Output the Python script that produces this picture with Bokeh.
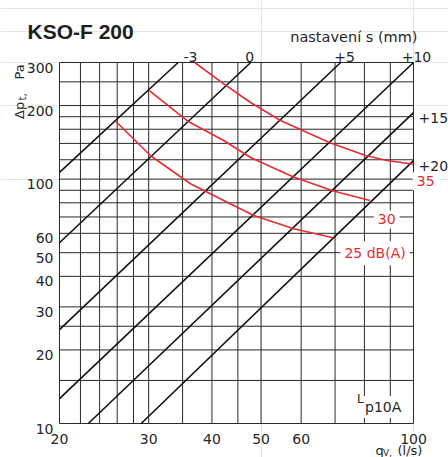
import math
from bokeh.plotting import figure
from bokeh.models import Label, Range1d
from bokeh.embed import file_html
from bokeh.resources import INLINE

# ---------------- data ----------------
flow_ticks = [20, 30, 40, 50, 60, 100]
dp_ticks = [10, 20, 30, 40, 50, 60, 100, 200, 300]
flow_grid = [20, 22, 24, 26, 28, 30, 35, 40, 45, 50, 60, 70, 80, 90, 100]
dp_grid = [10, 15, 20, 25, 30, 40, 50, 60, 70, 80, 90, 100, 120, 140, 160, 180, 200, 250, 300]

setting_labels = ["-3", "0", "+5", "+10", "+15", "+20"]
setting_q_start = [20, 20, 20, 20, 22.8, 29.0]
setting_dp_start = [106.6, 54.9, 24.2, 12.65, 10, 10]
setting_q_end = [34.3, 47.7, 71.8, 100, 100, 100]
setting_dp_end = [300, 300, 300, 300, 187, 119]

noise_labels = ["35", "30", "25 dB(A)"]
noise35_q = [36.98, 42.2, 47.67, 54.62, 68.03, 80.4, 88.7, 100]
noise35_dp = [300, 245.4, 205.8, 173.7, 141.6, 124.9, 119.2, 115]
noise30_q = [30.09, 35.84, 42.2, 47.67, 57.96, 69.5, 82.04]
noise30_dp = [230.4, 172.6, 143.9, 122.6, 102.0, 89.4, 81.8]
noise25_q = [25.79, 30.31, 36.28, 42.87, 48.38, 58.03, 69.40]
noise25_dp = [172.9, 124.3, 95.7, 80.4, 70.98, 62.6, 57.5]

# ---------------- layout ----------------
W, H = 448, 457
FL, FR, FT, FB = 59, 413, 62, 423       # chart area inside the canvas (pixels)
QMIN, QMAX, PMIN, PMAX = flow_grid[0], flow_grid[-1], dp_grid[0], dp_grid[-1]
LX = math.log10(QMAX / QMIN)
LY = math.log10(PMAX / PMIN)


def qx(px):
    """canvas x pixel -> flow value (annotation placement only)"""
    return QMIN * 10 ** ((px - FL) / (FR - FL) * LX)


def py(pyv):
    """canvas y pixel -> pressure value (annotation placement only)"""
    return PMIN * 10 ** ((FB - pyv) / (FB - FT) * LY)


FONT = "DejaVu Sans"
TXT = "#262626"
RED = "#ea2a31"
GRID = "#2a2a2a"

p = figure(width=W, height=H, x_axis_type="log", y_axis_type="log",
           x_axis_location=None, y_axis_location=None,
           x_range=Range1d(qx(0), qx(W)), y_range=Range1d(py(H), py(0)),
           min_border=0, output_backend="svg", toolbar_location=None,
           background_fill_color="white", border_fill_color="white")
p.outline_line_color = None

# grid (frame lines are the first/last grid values)
nx, ny = len(flow_grid), len(dp_grid)
p.segment(x0=flow_grid, y0=[PMIN] * nx, x1=flow_grid, y1=[PMAX] * nx,
          line_color=GRID, line_width=1)
p.segment(x0=[QMIN] * ny, y0=dp_grid, x1=[QMAX] * ny, y1=dp_grid,
          line_color=GRID, line_width=1)

# setting lines
p.segment(x0=setting_q_start, y0=setting_dp_start, x1=setting_q_end, y1=setting_dp_end,
          line_color="#111111", line_width=1.6)

# noise curves
for qs, ds in ((noise35_q, noise35_dp), (noise30_q, noise30_dp), (noise25_q, noise25_dp)):
    p.line(qs, ds, line_color=RED, line_width=1.6)


def lab(x, y, text, size="14px", color=TXT, align="left", dx=0, dy=0, font=FONT, **kw):
    l = Label(x=x, y=y, text=text, text_font=font, text_font_size=size,
              text_color=color, text_align=align, text_baseline="alphabetic",
              x_offset=dx, y_offset=dy, **kw)
    p.add_layout(l)
    return l


# tick labels
for v in dp_ticks:
    lab(QMIN, v, str(v), align="right", dx=-6, dy=-5)
for v in flow_ticks:
    lab(v, PMIN, str(v), align="center", dy=-15)

# title and top caption
lab(qx(27), py(31), "KSO-F 200", size="21px", font="Liberation Sans",
    text_font_style="bold", color="#1e1e1e")
lab(qx(417), py(36.5), "nastavení s (mm)", size="14.5px", align="right")

# setting labels at the top edge
top_dx = [12.3, -1, 4, 3]
for i in range(4):
    lab(setting_q_end[i], setting_dp_end[i], setting_labels[i], align="center",
        dx=top_dx[i], dy=6)
# setting labels at the right edge
for i in (4, 5):
    lab(setting_q_end[i], setting_dp_end[i], setting_labels[i], dx=5, dy=-5)

# noise labels
ends = [(noise35_q[-1], noise35_dp[-1], -0.7, -16.9),
        (noise30_q[-1], noise30_dp[-1], 3.8, -19.0),
        (noise25_q[-1], noise25_dp[-1], 7.3, -15.3)]
for (xq, yd, dx, dy), t in zip(ends, noise_labels):
    lab(xq, yd, t, color=RED, dx=dx, dy=dy, background_fill_color="white", padding=4)

# Lp10A
lab(qx(361.5), py(406.5), "p10A", background_fill_color="white", padding=3)
lab(qx(356.5), py(398.5), "L", size="12px")

# y axis title (rotated)
lab(qx(18.5), py(118.5), "Δp", size="13px", angle=math.pi / 2)
lab(qx(21.5), py(100), "t,", size="10px", angle=math.pi / 2)
lab(qx(18.5), py(79), "Pa", size="13px", angle=math.pi / 2)

# x axis title
lab(qx(375), py(450), "q", size="13px")
lab(qx(382.5), py(452), "V,", size="9px")
lab(qx(397), py(450), "(l/s)", size="13px")

open("out.html", "w").write(file_html(p, INLINE))
